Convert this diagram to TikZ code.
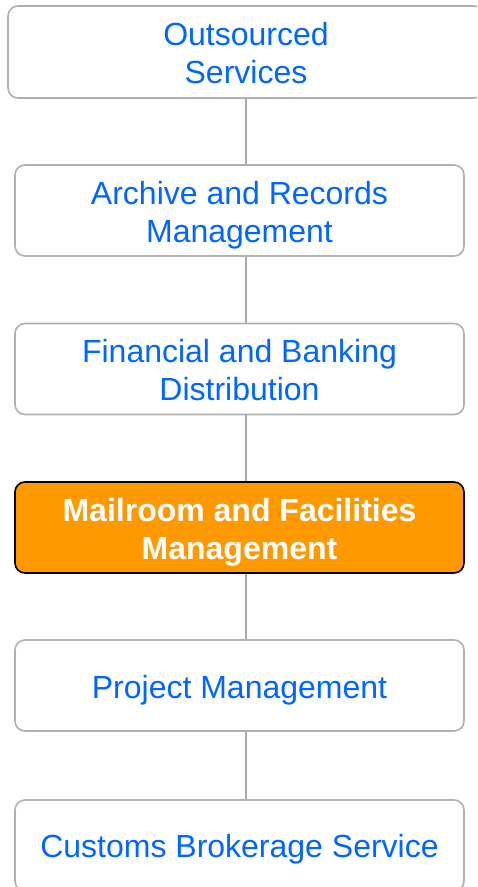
\documentclass[tikz,border=0pt]{standalone}
\usepackage{fontspec}
\setmainfont{Liberation Sans}
\definecolor{txtblue}{RGB}{0,102,255}
\definecolor{boxgray}{RGB}{176,176,176}
\definecolor{linegray}{RGB}{170,170,170}
\definecolor{hiorange}{RGB}{255,153,0}
\begin{document}
\begin{tikzpicture}[x=1pt,y=-1pt,
  box/.style={draw=boxgray, line width=1.6pt, rounded corners=10pt, fill=white,
    inner sep=0pt, minimum width=449pt, minimum height=91pt},
  hibox/.style={box, draw=black, fill=hiorange},
  lbl/.style={text=txtblue, align=center, inner sep=0pt, font=\fontsize{32}{38}\selectfont},
  hilbl/.style={lbl, text=white, font=\fontsize{32}{38}\selectfont\bfseries},
  conn/.style={draw=linegray, line width=1.6pt}]
\useasboundingbox (0,0) rectangle (477,887);
\clip (0,0) rectangle (477,887);
\fill[white] (0,0) rectangle (477,887);
\node[box, minimum width=476pt, minimum height=92pt] (b1) at (246,52) {};
\node[box] (b2) at (239.5,210.5) {};
\node[box] (b3) at (239.5,369) {};
\node[hibox] (b4) at (239.5,527.5) {};
\node[box] (b5) at (239.5,685.5) {};
\node[box] (b6) at (239.5,845.5) {};
\node[lbl] (t1) at ([yshift=-1.5pt]b1.center) {Outsourced\\Services};
\node[lbl] (t2) at ([yshift=-5pt]b2.center) {Archive and Records\\Management};
\node[lbl] (t3) at ([yshift=-1.5pt]b3.center) {Financial and Banking\\Distribution};
\node[hilbl] (t4) at ([yshift=-5pt]b4.center) {Mailroom and Facilities\\Management};
\node[lbl] (t5) at ([yshift=-5pt]b5.center) {Project Management};
\node[lbl] (t6) at ([yshift=-4pt]b6.center) {Customs Brokerage Service};
\draw[conn] (b1.south) -- (b1.south |- b2.north);
\draw[conn] (b1.south |- b2.south) -- (b1.south |- b3.north);
\draw[conn] (b1.south |- b3.south) -- (b1.south |- b4.north);
\draw[conn] (b1.south |- b4.south) -- (b1.south |- b5.north);
\draw[conn] (b1.south |- b5.south) -- (b1.south |- b6.north);
\end{tikzpicture}
\end{document}
